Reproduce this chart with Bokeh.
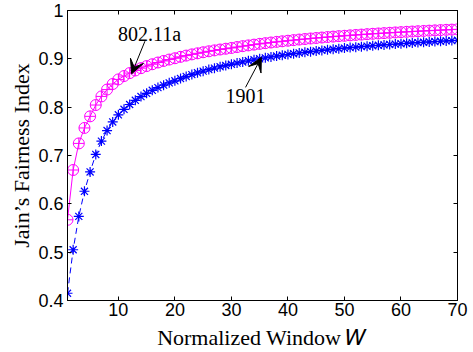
from bokeh.plotting import figure
from bokeh.models import (Range1d, FixedTicker, LinearAxis, Label, Arrow, VeeHead,
                          ColumnDataSource, CustomJSTickFormatter)
from bokeh.embed import file_html
from bokeh.resources import INLINE

# ---------------- data ----------------
window = list(range(1, 71))
jfi_80211a = [0.567, 0.670, 0.725, 0.757, 0.781, 0.8044, 0.8222, 0.8364, 0.8479, 0.8574,
              0.8644, 0.8705, 0.8759, 0.8807, 0.8850, 0.8888, 0.8924, 0.8956, 0.8985, 0.9012,
              0.9041, 0.9067, 0.9092, 0.9114, 0.9136, 0.9156, 0.9175, 0.9193, 0.9209, 0.9225,
              0.9244, 0.9262, 0.9278, 0.9294, 0.9310, 0.9324, 0.9338, 0.9351, 0.9363, 0.9375,
              0.9387, 0.9399, 0.9410, 0.9421, 0.9431, 0.9441, 0.9451, 0.9460, 0.9469, 0.9477,
              0.9486, 0.9494, 0.9502, 0.9510, 0.9518, 0.9525, 0.9532, 0.9539, 0.9546, 0.9552,
              0.9559, 0.9565, 0.9571, 0.9577, 0.9583, 0.9589, 0.9594, 0.9600, 0.9605, 0.9610]
jfi_1901 = [0.415, 0.505, 0.574, 0.626, 0.666, 0.7022, 0.7298, 0.7516, 0.7694, 0.7842,
            0.7956, 0.8055, 0.8142, 0.8219, 0.8287, 0.8349, 0.8405, 0.8456, 0.8503, 0.8546,
            0.8592, 0.8635, 0.8674, 0.8711, 0.8745, 0.8777, 0.8807, 0.8836, 0.8862, 0.8887,
            0.8912, 0.8936, 0.8959, 0.8980, 0.9001, 0.9020, 0.9039, 0.9057, 0.9074, 0.9090,
            0.9106, 0.9121, 0.9135, 0.9149, 0.9162, 0.9175, 0.9187, 0.9199, 0.9210, 0.9222,
            0.9232, 0.9242, 0.9252, 0.9262, 0.9271, 0.9280, 0.9288, 0.9297, 0.9305, 0.9313,
            0.9321, 0.9329, 0.9336, 0.9343, 0.9350, 0.9357, 0.9364, 0.9371, 0.9377, 0.9383]
x_ticks = [10, 20, 30, 40, 50, 60, 70]
y_ticks = [0.4, 0.5, 0.6, 0.7, 0.8, 0.9, 1.0]
y_tick_labels = ["0.4", "0.5", "0.6", "0.7", "0.8", "0.9", "1"]
series_names = ["802.11a", "1901"]
x_title = "Normalized Window \U0001D44A"
y_title = "Jain\u2019s Fairness Index"

# ---------------- figure ----------------
SERIF = "Liberation Serif"
SANS = "Liberation Sans"

p = figure(width=473, height=352, output_backend="svg", toolbar_location=None,
           x_range=Range1d(1, 70), y_range=Range1d(0.4, 1.0),
           min_border_left=67, min_border_right=16, min_border_top=10, min_border_bottom=52)
p.background_fill_color = "white"
p.border_fill_color = "white"
p.outline_line_color = "black"
p.outline_line_width = 1
p.xgrid.visible = False
p.ygrid.visible = False

src = ColumnDataSource(dict(w=window, a=jfi_80211a, b=jfi_1901))

# 1901: dashed blue line with asterisks
p.line("w", "b", source=src, line_color="#0000FF", line_width=1, line_dash="6 4")
p.scatter("w", "b", source=src, marker="asterisk", size=10, line_color="#0000FF", line_width=1.2)
# 802.11a: solid magenta line with circled crosses
p.line("w", "a", source=src, line_color="#FF00FF", line_width=1)
p.scatter("w", "a", source=src, marker="circle_cross", size=11, line_color="#FF00FF",
          fill_color=None, line_width=1)

# axes
xa = p.xaxis[0]
xa.ticker = FixedTicker(ticks=x_ticks)
ya = p.yaxis[0]
ya.ticker = FixedTicker(ticks=y_ticks)
ya.major_label_overrides = {v: l for v, l in zip(y_ticks, y_tick_labels)}
for ax in (xa, ya):
    ax.major_tick_in = 4
    ax.major_tick_out = 0
    ax.minor_tick_in = 0
    ax.minor_tick_out = 0
    ax.axis_line_color = "black"
    ax.major_tick_line_color = "black"
    ax.major_label_text_font = SANS
    ax.major_label_text_font_size = "18px"
    ax.major_label_text_color = "black"
    ax.axis_label_text_font = SERIF
    ax.axis_label_text_font_size = "22px"
    ax.axis_label_text_font_style = "normal"
    ax.axis_label_text_color = "black"
xa.major_label_standoff = 2
ya.major_label_standoff = 4
ya.axis_label = y_title
ya.axis_label_standoff = 1
xa.axis_label = x_title
xa.axis_label_standoff = 6

blank = CustomJSTickFormatter(code="return ''")
top = LinearAxis(ticker=FixedTicker(ticks=x_ticks), formatter=blank, major_tick_in=4,
                 major_tick_out=0, minor_tick_in=0, minor_tick_out=0, axis_line_color="black",
                 major_label_text_font_size="1px", major_label_standoff=0)
right = LinearAxis(ticker=FixedTicker(ticks=y_ticks), formatter=blank, major_tick_in=4,
                   major_tick_out=0, minor_tick_in=0, minor_tick_out=0, axis_line_color="black",
                   major_label_text_font_size="1px", major_label_standoff=0)
p.add_layout(top, "above")
p.add_layout(right, "right")

# annotations
p.add_layout(Label(x=15.54, y=0.951, text=series_names[0], text_font=SERIF,
                   text_font_size="20px", text_align="center", text_baseline="middle",
                   text_color="black"))
p.add_layout(Label(x=32.5, y=0.824, text=series_names[1], text_font=SERIF,
                   text_font_size="20px", text_align="center", text_baseline="middle",
                   text_color="black"))
p.add_layout(Arrow(x_start=14.7, y_start=0.9365, x_end=12.35, y_end=0.869,
                   line_color="black", line_width=1,
                   end=VeeHead(size=14, fill_color="black", line_color="black")))
p.add_layout(Arrow(x_start=32.5, y_start=0.841, x_end=35.3, y_end=0.903,
                   line_color="black", line_width=1,
                   end=VeeHead(size=14, fill_color="black", line_color="black")))

open("out.html", "w").write(file_html(p, INLINE))
